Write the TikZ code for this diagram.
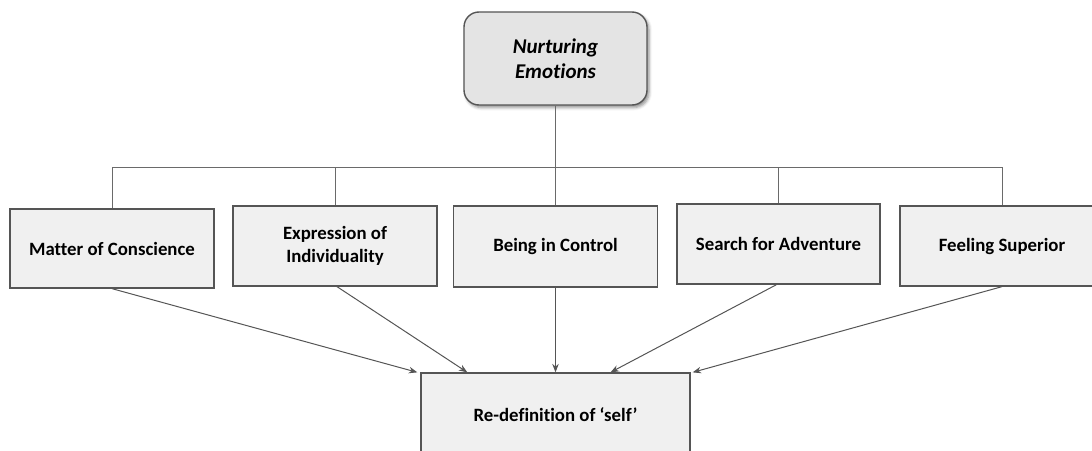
\documentclass[tikz,border=0pt]{standalone}
\usepackage{fontspec}
\setmainfont{Carlito}[Ligatures=NoCommon]
\usetikzlibrary{arrows.meta,calc,shadows.blur}

\definecolor{boxfill}{HTML}{F0F0F0}
\definecolor{topfill}{HTML}{E4E4E4}
\definecolor{edge}{HTML}{555555}
\definecolor{wire}{HTML}{6A6A6A}

\tikzset{
  topbox/.style={draw=edge, line width=1.4pt, fill=topfill, rounded corners=15pt,
    minimum width=183pt, minimum height=93pt, align=center,
    font=\fontsize{21}{25.5}\selectfont\bfseries\itshape,
    blur shadow={shadow xshift=2pt, shadow yshift=-2.5pt, shadow blur radius=3pt, shadow opacity=45}},
  catbox/.style={draw=edge, line width=1.3pt, fill=boxfill,
    minimum width=204pt, minimum height=80pt, align=center,
    font=\fontsize{18.8}{22.5}\selectfont\bfseries},
  wireline/.style={draw=wire, line width=0.9pt},
  flow/.style={draw=wire!80!black, line width=1pt, -{Stealth[length=8.5pt,width=6.5pt]}}
}

\begin{document}
\begin{tikzpicture}[x=1pt,y=-1pt]
  \useasboundingbox (0,0) rectangle (1092,450);
  \begin{scope}
  \clip (0,0) rectangle (1092,450);

  % root
  \node[topbox] (root) at (555.5,58.5) {Nurturing\\Emotions};

  % five categories
  \node[catbox, minimum height=79pt] (c1) at (112,248.5) {Matter of Conscience};
  \node[catbox] (c2) at (335,246) {Expression of\\Individuality};
  \node[catbox, minimum height=81pt] (c3) at (555.5,246.5) {Being in Control};
  \node[catbox, minimum width=203pt] (c4) at (778.5,244) {Search for Adventure};
  \node[catbox] (c5) at (1002,246) {Feeling Superior};

  % outcome
  \node[catbox, minimum width=269pt, minimum height=84pt] (out) at (555.5,415) {Re-definition of ‘self’};

  % tree connectors
  \coordinate (bus) at (555.5,167);
  \draw[wireline] (root.south) -- (bus);
  \draw[wireline] (c1.north) -- (c1.north |- bus) -- (c5.north |- bus) -- (c5.north);
  \draw[wireline] (c2.north) -- (c2.north |- bus);
  \draw[wireline] (c3.north) -- (c3.north |- bus);
  \draw[wireline] (c4.north) -- (c4.north |- bus);

  % arrows into the outcome box
  \coordinate (t1) at ($(out.north west)+(-3,0)$);
  \coordinate (t2) at ($(out.north west)+(47,0)$);
  \coordinate (t4) at ($(out.north)+(55,0)$);
  \coordinate (t5) at ($(out.north east)+(2,0)$);
  \draw[flow] (c1.south) -- (t1);
  \draw[flow] ($(c2.south)+(2,0)$) -- (t2);
  \draw[flow] (c3.south) -- (out.north);
  \draw[flow] ($(c4.south)+(-2,0)$) -- (t4);
  \draw[flow] (c5.south) -- (t5);
  \end{scope}
\end{tikzpicture}
\end{document}
